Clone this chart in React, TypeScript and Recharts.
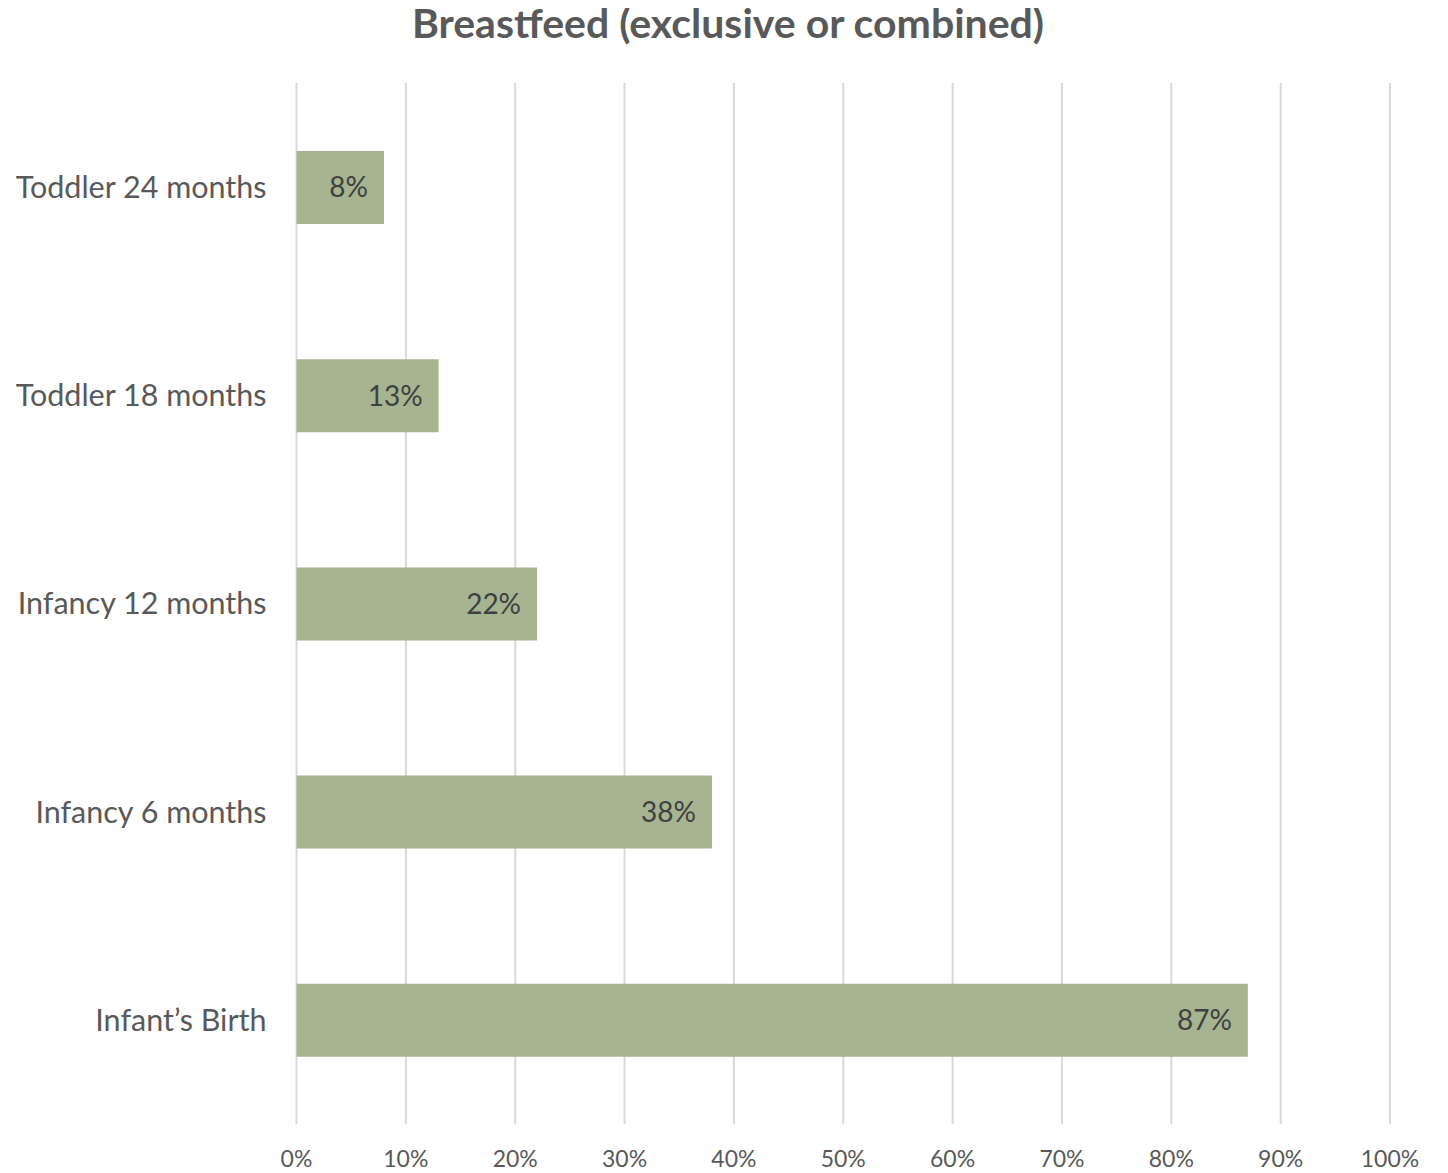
import React from "react";
import { BarChart, Bar, XAxis, YAxis, CartesianGrid, LabelList } from "recharts";

const categories = ["Toddler 24 months", "Toddler 18 months", "Infancy 12 months", "Infancy 6 months", "Infant\u2019s Birth"];
const values = [8, 13, 22, 38, 87];
const xTicks = [0, 10, 20, 30, 40, 50, 60, 70, 80, 90, 100];
const title = "Breastfeed (exclusive or combined)";

const data = categories.map((c, i) => ({ name: c, value: values[i] }));
const FONT = "Lato, 'Open Sans', sans-serif";

export default function App() {
  return (
    <div style={{ position: "relative", width: 1440, height: 1165, fontFamily: FONT }}>
      <div
        style={{
          position: "absolute",
          top: -10,
          left: 0,
          width: 1440,
          textAlign: "center",
          fontSize: 41,
          fontWeight: 700,
          color: "#595959",
          fontFamily: FONT,
        }}
      >
        {title}
      </div>
      <BarChart
        width={1440}
        height={1165}
        data={data}
        layout="vertical"
        margin={{ top: 75, right: 58, bottom: 9, left: 0 }}
      >
        <CartesianGrid horizontal={false} vertical={true} stroke="#D9D9D9" strokeWidth={2} />
        <XAxis
          type="number"
          domain={[0, 100]}
          ticks={xTicks}
          tickFormatter={(v) => `${v}%`}
          axisLine={false}
          tickLine={false}
          tickSize={0}
          tickMargin={27}
          height={40}
          interval={0}
          tick={{ fill: "#595959", fontSize: 23, fontFamily: FONT }}
        />
        <YAxis
          type="category"
          dataKey="name"
          width={288.5}
          axisLine={false}
          tickLine={false}
          tickSize={0}
          tickMargin={30}
          interval={0}
          tick={{ fill: "#595959", fontSize: 30.5, fontFamily: FONT }}
        />
        <Bar dataKey="value" fill="#A6B491" barSize={73} isAnimationActive={false}>
          <LabelList
            dataKey="value"
            position="insideRight"
            offset={16}
            formatter={(v) => `${v}%`}
            style={{ fill: "#404040", fontSize: 28, fontFamily: FONT }}
          />
        </Bar>
      </BarChart>
    </div>
  );
}
